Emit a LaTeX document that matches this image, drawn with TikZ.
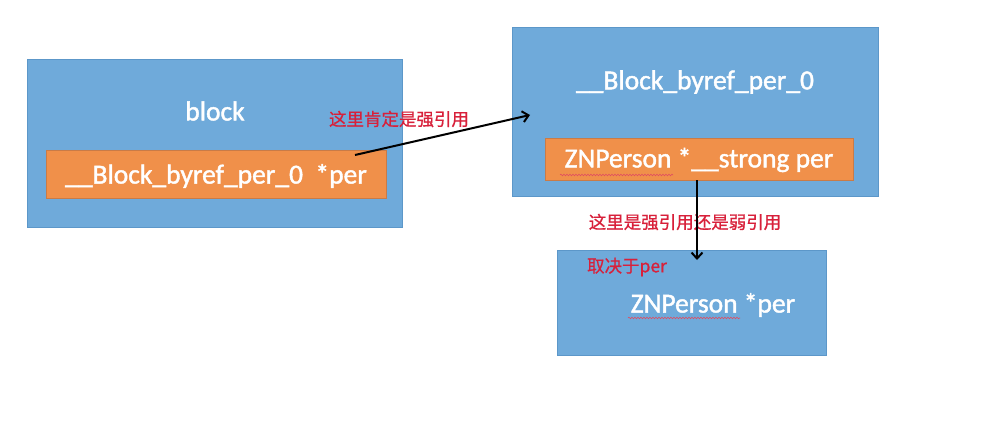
\documentclass[tikz,border=0pt]{standalone}
\usepackage{fontspec}
\setmainfont{Carlito}[FakeBold=1.2]
\newfontfamily\latinbold{Carlito}[FakeBold=1.5]
\newfontfamily\cjk{Noto Sans CJK SC}[FakeBold=0.8]
\usetikzlibrary{arrows.meta,decorations.pathmorphing}
\definecolor{boxblue}{HTML}{6FAADA}
\definecolor{boxline}{HTML}{5C97C9}
\definecolor{boxorange}{HTML}{F0904A}
\definecolor{orangeline}{HTML}{C97B47}
\definecolor{notered}{HTML}{D8203A}
\tikzset{
  bluebox/.style={fill=boxblue, draw=boxline, line width=0.8pt},
  orangebox/.style={fill=boxorange, draw=orangeline, line width=0.8pt},
  whitetxt/.style={text=white, font=\latinbold\fontsize{27.5}{30}\selectfont, inner sep=0pt},
  notetxt/.style={text=notered, font=\cjk\fontsize{17.5}{20}\selectfont, inner sep=0pt},
  ref/.style={draw=black, line width=2pt, -{Straight Barb[length=6pt,width=11pt,line width=2pt]}},
  squiggle/.style={draw=notered!80, line width=0.6pt, decorate, decoration={snake, amplitude=0.8pt, segment length=3pt}}
}
\begin{document}
\begin{tikzpicture}[x=1pt,y=-1pt]
\useasboundingbox[fill=white] (0,0) rectangle (1000,420);
% block 1
\draw[bluebox] (27,59) rectangle (402,227);
\node[whitetxt] (t1) at (215,111) {block};
\draw[orangebox] (46,150) rectangle (386,198);
\node[whitetxt] (t1in) at (216,176) {\_\_Block\_byref\_per\_0\ \ *per};
% block 2
\draw[bluebox] (512,27) rectangle (878,196);
\node[whitetxt] (t2) at (695,82) {\_\_Block\_byref\_per\_0};
\draw[orangebox] (545,138) rectangle (853,180);
\node[whitetxt] (t2in) at (699,160) {ZNPerson *\_\_strong per};
% block 3
\draw[bluebox] (557,250) rectangle (826,355);
\node[whitetxt] (t3) at (713,305) {ZNPerson *per};
% spell-check underlines
\draw[squiggle] (560,175) -- (673,175);
\draw[squiggle] (628,318) -- (740,318);
% notes
\node[notetxt] (n1) at (399,119) {这里肯定是强引用};
\node[notetxt] (n2) at (685,222) {这里是强引用还是弱引用};
\node[notetxt] (n3) at (627,267) {取决于per};
% arrows
\coordinate (a1s) at (355,155);
\coordinate (a1e) at (530,115);
\coordinate (a2s) at (697,180);
\coordinate (a2e) at (697,260);
\draw[ref] (a1s) -- (a1e);
\draw[ref] (a2s) -- (a2e);
\end{tikzpicture}
\end{document}
